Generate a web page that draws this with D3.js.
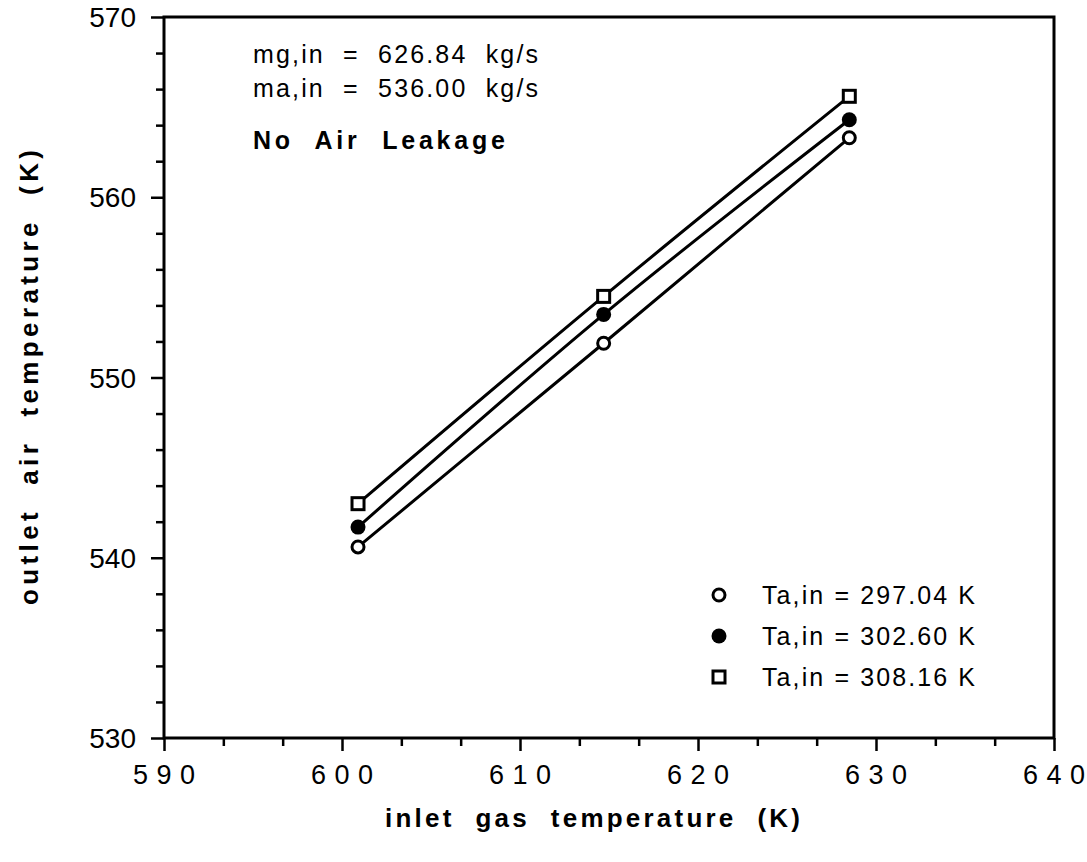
<!DOCTYPE html>
<html>
<head>
<meta charset="utf-8">
<script src="https://cdn.jsdelivr.net/npm/d3@7"></script>
<style>
  html, body { margin: 0; padding: 0; background: #fff; }
  svg text { font-family: "Liberation Sans", Arial, Helvetica, sans-serif; fill: #000; }
</style>
</head>
<body>
<svg id="chart" width="1087" height="862"></svg>
<script>
// Inlet gas temperature (K) at the three operating points
const inletGas = [600.9, 614.7, 628.5];
// Outlet air temperature (K) for each inlet air temperature
const outlet297 = [540.6, 551.9, 563.3];
const outlet302 = [541.7, 553.5, 564.3];
const outlet308 = [543.0, 554.5, 565.6];
const seriesNames = ["Ta,in = 297.04 K", "Ta,in = 302.60 K", "Ta,in = 308.16 K"];
const seriesSymbols = ["openCircle", "filledCircle", "openSquare"];

const xTicks = [590, 600, 610, 620, 630, 640];
const yTicks = [530, 540, 550, 560, 570];
const notes = ["mg,in  =  626.84  kg/s", "ma,in  =  536.00  kg/s"];
const caseLabel = "No  Air  Leakage";
const xTitle = "inlet  gas  temperature  (K)";
const yTitle = "outlet  air  temperature  (K)";

const svg = d3.select("#chart");
const x = d3.scaleLinear().domain([590, 640]).range([164, 1054]);
const y = d3.scaleLinear().domain([530, 570]).range([738, 17]);

const [x0, x1] = x.range();
const [y0, y1] = y.range();

// minor ticks: x every 10/3 K, y every 2 K
const xMinor = d3.range(0, 16).map(i => 590 + i * 10 / 3).filter((v, i) => i % 3 !== 0);
const yMinor = d3.range(530, 571, 2).filter(v => v % 10 !== 0);

const axisStyle = g => {
  g.select(".domain").remove();
  g.selectAll("line").attr("stroke", "#000").attr("stroke-width", 2.5);
  g.selectAll("text").remove();
};

svg.append("g").attr("transform", `translate(0,${y0})`)
  .call(d3.axisBottom(x).tickValues(xTicks).tickSize(13)).call(axisStyle);
svg.append("g").attr("transform", `translate(0,${y0})`)
  .call(d3.axisBottom(x).tickValues(xMinor).tickSize(8)).call(axisStyle);
svg.append("g").attr("transform", `translate(${x0},0)`)
  .call(d3.axisLeft(y).tickValues(yTicks).tickSize(13)).call(axisStyle);
svg.append("g").attr("transform", `translate(${x0},0)`)
  .call(d3.axisLeft(y).tickValues(yMinor).tickSize(8)).call(axisStyle);

// frame
svg.append("path")
  .attr("d", `M${x0},${y1}H${x1}V${y0}H${x0}Z`)
  .attr("fill", "none").attr("stroke", "#000").attr("stroke-width", 3);

// tick labels
svg.append("g").selectAll("text").data(yTicks).join("text")
  .attr("x", 136).attr("y", d => y(d) + 10)
  .attr("text-anchor", "end").attr("font-size", 28)
  .text(d => d);
svg.append("g").selectAll("text").data(xTicks).join("text")
  .attr("x", d => x(d) - 31).attr("y", 784)
  .attr("font-size", 27)
  .attr("textLength", 62).attr("lengthAdjust", "spacing")
  .text(d => d);

// axis titles
svg.append("text")
  .attr("x", 385).attr("y", 827)
  .attr("font-size", 26).attr("font-weight", "bold")
  .attr("textLength", 415).attr("lengthAdjust", "spacing")
  .style("white-space", "pre")
  .text(xTitle);
svg.append("text")
  .attr("transform", "translate(38,605) rotate(-90)")
  .attr("font-size", 26).attr("font-weight", "bold")
  .attr("textLength", 455).attr("lengthAdjust", "spacing")
  .style("white-space", "pre")
  .text(yTitle);

// annotations
svg.append("g").selectAll("text").data(notes).join("text")
  .attr("x", 253).attr("y", (d, i) => 63 + i * 34)
  .attr("font-size", 25)
  .attr("textLength", 285).attr("lengthAdjust", "spacing")
  .style("white-space", "pre")
  .text(d => d);
svg.append("text")
  .attr("x", 253).attr("y", 149)
  .attr("font-size", 25).attr("font-weight", "bold")
  .attr("textLength", 252).attr("lengthAdjust", "spacing")
  .style("white-space", "pre")
  .text(caseLabel);

// curves and markers
const seriesValues = [outlet297, outlet302, outlet308];
const line = d3.line().x(d => x(d[0])).y(d => y(d[1])).curve(d3.curveNatural);

function drawSymbol(g, kind, cx, cy) {
  if (kind === "openCircle") {
    g.append("circle").attr("cx", cx).attr("cy", cy).attr("r", 6)
      .attr("fill", "#fff").attr("stroke", "#000").attr("stroke-width", 3);
  } else if (kind === "filledCircle") {
    g.append("circle").attr("cx", cx).attr("cy", cy).attr("r", 7.5).attr("fill", "#000");
  } else {
    g.append("rect").attr("x", cx - 6).attr("y", cy - 6).attr("width", 12).attr("height", 12)
      .attr("fill", "#fff").attr("stroke", "#000").attr("stroke-width", 3);
  }
}

seriesValues.forEach((vals, i) => {
  const pts = inletGas.map((g, j) => [g, vals[j]]);
  svg.append("path").datum(pts).attr("d", line)
    .attr("fill", "none").attr("stroke", "#000").attr("stroke-width", 3)
    .attr("stroke-linejoin", "round");
  const g = svg.append("g");
  pts.forEach(p => drawSymbol(g, seriesSymbols[i], x(p[0]), y(p[1])));
});

// legend
const legendRows = [595, 636, 677];
seriesNames.forEach((name, i) => {
  const g = svg.append("g");
  drawSymbol(g, seriesSymbols[i], 719, legendRows[i]);
  g.append("text").attr("x", 762).attr("y", legendRows[i] + 9)
    .attr("font-size", 25)
    .attr("textLength", 213).attr("lengthAdjust", "spacing")
    .text(name);
});
</script>
</body>
</html>
